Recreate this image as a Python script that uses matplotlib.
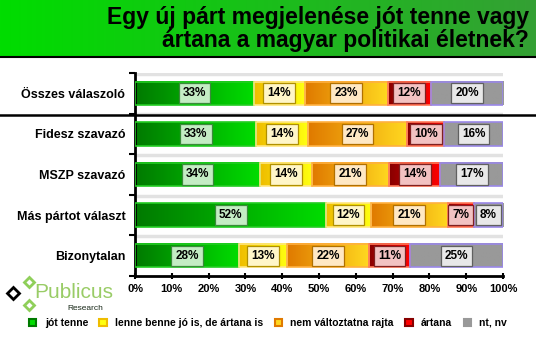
import numpy as np
import matplotlib
matplotlib.use("Agg")
import matplotlib.pyplot as plt
from matplotlib.colors import LinearSegmentedColormap
from matplotlib.patches import Rectangle, Patch
from matplotlib.lines import Line2D

plt.rcParams['font.family'] = ['Liberation Sans', 'DejaVu Sans']

title = "Egy új párt megjelenése jót tenne vagy\nártana a magyar politikai életnek?"
groups = ["Összes válaszoló", "Fidesz szavazó", "MSZP szavazó", "Más pártot választ", "Bizonytalan"]
series = ["jót tenne", "lenne benne jó is, de ártana is", "nem változtatna rajta", "ártana", "nt, nv"]
jot_tenne = [33, 33, 34, 52, 28]
jo_is_artana_is = [14, 14, 14, 12, 13]
nem_valtoztatna = [23, 27, 21, 21, 22]
artana = [12, 10, 14, 7, 11]
nt_nv = [20, 16, 17, 8, 25]
xticks = [0, 10, 20, 30, 40, 50, 60, 70, 80, 90, 100]

# gradient left->right, edge, label box face, label box edge
styles = [
    ("#007a00", "#00dd00", "#22cc22", "#c4ecc4", "#3a8a3a"),
    ("#efbd00", "#ffff10", "#ffe680", "#fff6c8", "#b09000"),
    ("#e07a00", "#ffd820", "#ffb040", "#ffe8c4", "#b07000"),
    ("#880000", "#ff0000", "#ff7a5a", "#f2c2c2", "#802020"),
    ("#999999", "#999999", "#9a88e8", "#e8e8e8", "#606060"),
]

W, H = 536, 355
fig = plt.figure(figsize=(W / 100, H / 100), dpi=100)

# title band
band = fig.add_axes([0, 1 - 56 / H, 1, 56 / H])
band.imshow(np.linspace(0, 1, 256).reshape(1, -1), aspect="auto",
            cmap=LinearSegmentedColormap.from_list("t", ["#00dd00", "#34a034"]),
            extent=[0, 1, 0, 1])
band.set_axis_off()
fig.text(529 / W, 1 - 29 / H, title, ha="right", va="center", fontsize=16.5,
         fontweight="bold", linespacing=1.0)
fig.add_artist(Line2D([0, 1], [1 - 56.5 / H] * 2, color="black", lw=1.5))

ax = fig.add_axes([135 / W, 79 / H, 368 / W, 203 / H])
data = np.array([jot_tenne, jo_is_artana_is, nem_valtoztatna, artana, nt_nv], float)
shares = data / data.sum(axis=0) * 100

for b in np.arange(-0.5, 5, 1):
    ax.axhline(b + 0.02, color="#e2e2e2", lw=2.5, zorder=0)

bh = 0.58
for i in range(len(groups)):
    left = 0
    for k in range(len(series)):
        w = shares[k, i]
        c0, c1, ec, fc, lc = styles[k]
        cm = LinearSegmentedColormap.from_list("g%d" % k, [c0, c1])
        ax.imshow(np.linspace(0, 1, 64).reshape(1, -1), aspect="auto", cmap=cm,
                  extent=[left, left + w, i + bh / 2, i - bh / 2], zorder=2)
        ax.add_patch(Rectangle((left, i - bh / 2), w, bh, fill=False, ec=ec, lw=1.2, zorder=3))
        ax.text(left + w / 2, i, "%d%%" % data[k, i], ha="center", va="center",
                fontsize=8.5, fontweight="bold", zorder=4,
                bbox=dict(boxstyle="square,pad=0.35", fc=fc, ec=lc, lw=0.9))
        left += w
ax.set_xlim(0, 100)
ax.set_ylim(4.5, -0.5)

ax.set_yticks(range(len(groups)))
ax.set_yticklabels(groups, fontsize=9, fontweight="bold")
ax.tick_params(axis="y", length=0, pad=7)
ax.set_yticks(np.arange(-0.5, 5, 1), minor=True)
ax.tick_params(axis="y", which="minor", length=4, width=1.5, direction="out")
ax.set_xticks(xticks)
ax.set_xticklabels(["%d%%" % t for t in xticks], fontsize=8, fontweight="bold")
ax.tick_params(axis="x", length=4, width=1.5, direction="inout", pad=4)
for s in ["top", "right"]:
    ax.spines[s].set_visible(False)
ax.spines["left"].set_linewidth(2)
ax.spines["bottom"].set_linewidth(2)

# separator under the first row
sep_y = 1 - 114.5 / H
fig.add_artist(Line2D([0, 1], [sep_y, sep_y], color="black", lw=1.8))

# legend
handles = [Patch(fc=styles[k][1], ec=styles[k][0], lw=1.5) for k in range(len(series))]
fig.legend(handles, series, loc="center", bbox_to_anchor=(0.5, 1 - 323 / H), ncol=5,
           frameon=False, prop=dict(size=7.5, weight="bold"), handlelength=0.7,
           handleheight=0.7, handletextpad=0.8, columnspacing=1.1)

# logo
fig.add_artist(Line2D([13 / W], [1 - 293 / H], marker="D", ms=6, mfc="white", mec="black", mew=2))
fig.add_artist(Line2D([29 / W], [1 - 282 / H], marker="D", ms=5.5, mfc="white", mec="#8fcf5a", mew=2))
fig.add_artist(Line2D([29 / W], [1 - 305 / H], marker="D", ms=5.5, mfc="white", mec="#8fcf5a", mew=2))
fig.text(34 / W, 1 - 292 / H, "Publicus", fontsize=15, color="#99cc66", va="center", ha="left")
fig.text(103 / W, 1 - 309 / H, "Research", fontsize=6, color="#1a2a1a", va="center", ha="right")

fig.savefig("out.png", dpi=100)
